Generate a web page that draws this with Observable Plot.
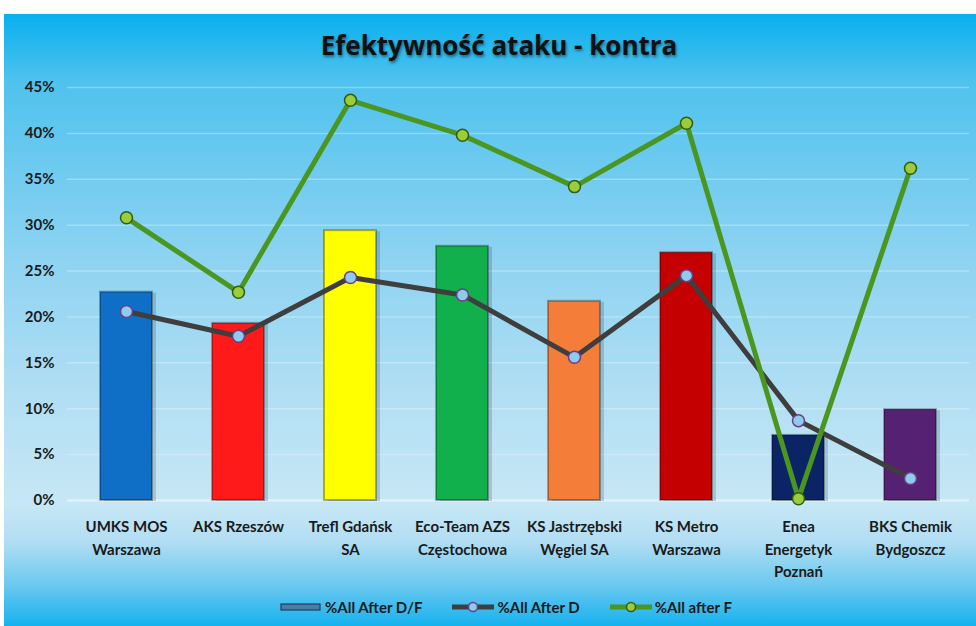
<!DOCTYPE html>
<html>
<head>
<meta charset="utf-8">
<script src="https://cdn.jsdelivr.net/npm/d3@7"></script>
<script src="https://cdn.jsdelivr.net/npm/@observablehq/plot@0.6"></script>
<style>
  html, body { margin: 0; padding: 0; background: #fff; }
  #frame {
    position: absolute; left: 4px; top: 14px; width: 972px; height: 612px;
    background: linear-gradient(to bottom, #08b0ee 0%, #4fc2ee 11%, #8ed3f1 40%, #b5e0f4 65%, #c6e7f5 80%, #b3def3 86%, #6fc9f0 93%, #15b2ee 100%);
    font-family: Lato, "Open Sans", sans-serif;
    overflow: hidden;
  }
  #title {
    position: absolute; left: 9px; width: 972px; top: 13px; text-align: center;
    font-family: "Open Sans", Lato, sans-serif;
    font-weight: 700; font-size: 26px; color: #111;
    text-shadow: 1px 2px 3px rgba(0,0,0,0.45);
  }
  #chart { position: absolute; left: 0; top: 56px; }
  #legend {
    position: absolute; left: 16px; width: 972px; top: 584px;
    display: flex; justify-content: center; gap: 30px; align-items: center;
    font-weight: 700; font-size: 15px; color: #1a1a1a;
  }
  .item { display: flex; align-items: center; gap: 3px; }
</style>
</head>
<body>
<div id="frame">
  <div id="title">Efektywność ataku - kontra</div>
  <div id="chart"></div>
  <div id="legend"></div>
</div>
<script>
const categories = ["UMKS MOS\nWarszawa", "AKS Rzeszów", "Trefl Gdańsk\nSA", "Eco-Team AZS\nCzęstochowa", "KS Jastrzębski\nWęgiel SA", "KS Metro\nWarszawa", "Enea\nEnergetyk\nPoznań", "BKS Chemik\nBydgoszcz"];
const afterDF = [0.227, 0.193, 0.294, 0.277, 0.217, 0.270, 0.071, 0.099];
const afterD  = [0.206, 0.179, 0.243, 0.224, 0.156, 0.245, 0.087, 0.024];
const afterF  = [0.308, 0.227, 0.436, 0.398, 0.342, 0.411, 0.002, 0.362];
const barColors = ["#0f6fc6", "#ff1a1a", "#ffff00", "#12b04c", "#f47d3a", "#c40000", "#0a2466", "#552273"];
const yTicks = [0, 0.05, 0.10, 0.15, 0.20, 0.25, 0.30, 0.35, 0.40, 0.45];
const seriesNames = ["%All After D/F", "%All After D", "%All after F"];

const rows = categories.map((c, i) => ({cat: c, df: afterDF[i], d: afterD[i], f: afterF[i], color: barColors[i]}));

const plot = Plot.plot({
  width: 972,
  height: 530,
  marginTop: 17,
  marginBottom: 100,
  marginLeft: 63,
  marginRight: 7,
  style: {background: "transparent", fontFamily: "Lato, 'Open Sans', sans-serif", fontWeight: 700, fontSize: "15px", color: "#1a1a1a"},
  x: {domain: categories, padding: 0, label: null},
  y: {domain: [0, 0.45], label: null},
  marks: [
    Plot.gridY(yTicks, {stroke: "#eaf6fc", strokeOpacity: 0.35, strokeWidth: 1.5}),
    Plot.ruleY([0], {stroke: "#e3f3fa", strokeWidth: 2}),
    Plot.barY(rows, {x: "cat", y: "df", insetLeft: 32, insetRight: 28, dx: 2, dy: 1, fill: "#000", fillOpacity: 0.15}),
    Plot.barY(rows, {x: "cat", y: "df", insetLeft: 30, insetRight: 30, fill: "color", stroke: "#000", strokeOpacity: 0.3, strokeWidth: 2}),
    Plot.line(rows, {x: "cat", y: "d", stroke: "#3e3e3e", strokeWidth: 5}),
    Plot.dot(rows, {x: "cat", y: "d", r: 6, fill: "#8fcbea", stroke: "#6b3d8c", strokeWidth: 1.5}),
    Plot.line(rows, {x: "cat", y: "f", stroke: "#4b961f", strokeWidth: 5}),
    Plot.dot(rows, {x: "cat", y: "f", r: 6, fill: "#9ccc3a", stroke: "#2f5e12", strokeWidth: 1.5}),
    Plot.axisY(yTicks, {tickFormat: d3.format(".0%"), tickSize: 0, tickPadding: 13, fontSize: 15, fontWeight: 700, fill: "#1a1a1a"}),
    Plot.axisX({tickSize: 0, tickPadding: 16, fontSize: 15, fontWeight: 700, lineHeight: 1.5, fill: "#1a1a1a"})
  ]
});
document.getElementById("chart").appendChild(plot);

// legend
const legend = document.getElementById("legend");
const ns = "http://www.w3.org/2000/svg";
function swatch(kind) {
  const s = document.createElementNS(ns, "svg");
  s.setAttribute("width", 42); s.setAttribute("height", 14);
  if (kind === 0) {
    s.innerHTML = '<rect x="1" y="4" width="39" height="6" fill="#4a7ea8" stroke="#1e3f5c" stroke-width="1.2"/>';
  } else if (kind === 1) {
    s.innerHTML = '<line x1="0" y1="7" x2="42" y2="7" stroke="#3e3e3e" stroke-width="5"/><circle cx="21" cy="7" r="4.5" fill="#8fcbea" stroke="#6b3d8c" stroke-width="1.5"/>';
  } else {
    s.innerHTML = '<line x1="0" y1="7" x2="42" y2="7" stroke="#4b961f" stroke-width="5"/><circle cx="21" cy="7" r="4.5" fill="#9ccc3a" stroke="#2f5e12" stroke-width="1.5"/>';
  }
  return s;
}
seriesNames.forEach((n, i) => {
  const it = document.createElement("div");
  it.className = "item";
  it.appendChild(swatch(i));
  const t = document.createElement("span");
  t.textContent = n;
  it.appendChild(t);
  legend.appendChild(it);
});
</script>
</body>
</html>
